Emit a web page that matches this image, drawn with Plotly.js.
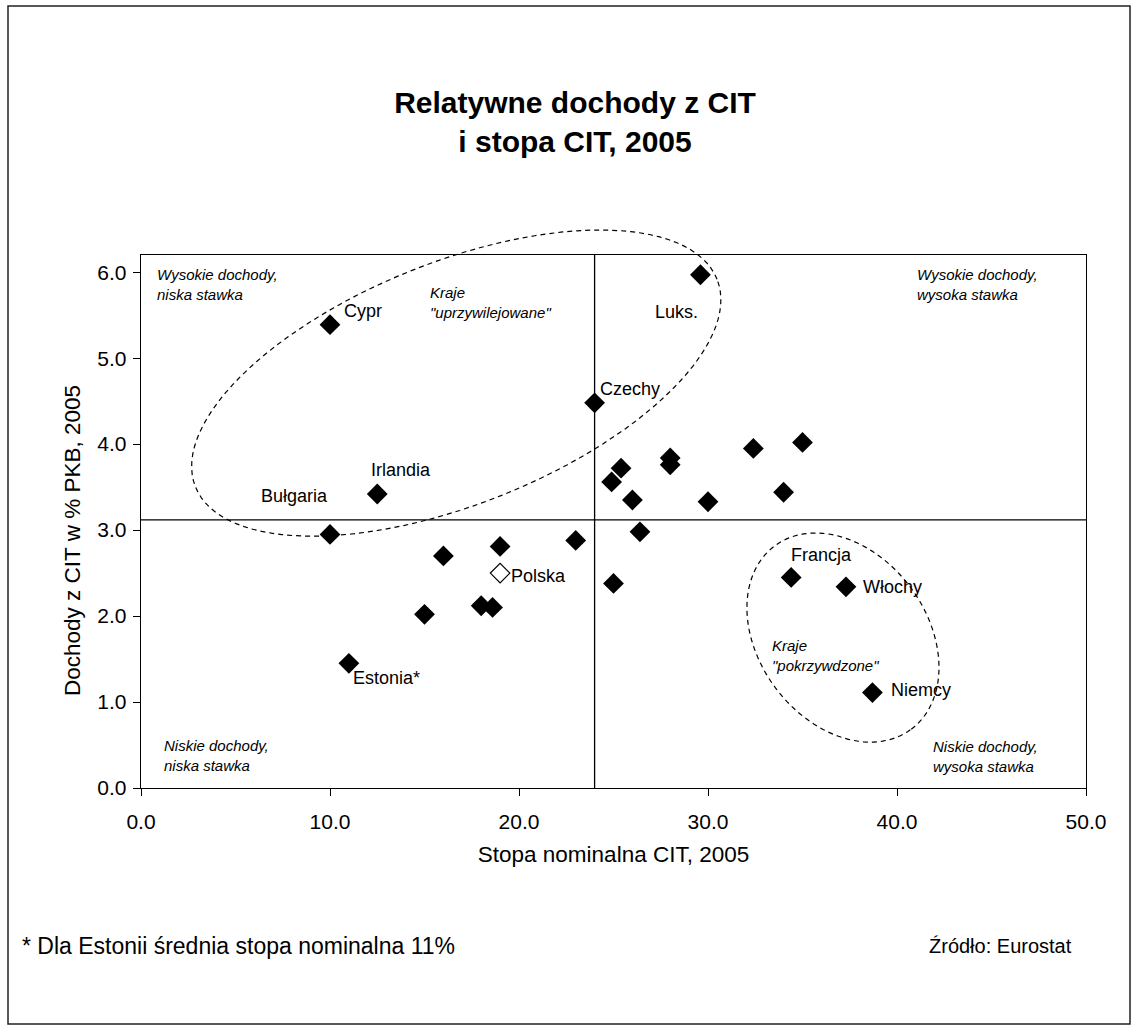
<!DOCTYPE html>
<html>
<head>
<meta charset="utf-8">
<script src="https://cdn.plot.ly/plotly-3.0.1.min.js"></script>
<style>
  html, body { margin: 0; padding: 0; background: #fff; }
  #chart { width: 1133px; height: 1027px; }
</style>
</head>
<body>
<div id="chart"></div>
<script>
// ---- data ----
const rates    = [10.0, 10.0, 12.5, 11.0, 15.0, 16.0, 18.0, 18.6, 19.0, 23.0, 24.0, 24.9, 25.4, 25.0, 26.0, 26.4, 28.0, 28.0, 29.6, 30.0, 32.4, 34.0, 35.0, 34.4, 37.3, 38.7];
const revenues = [5.39, 2.95, 3.42, 1.45, 2.02, 2.70, 2.12, 2.10, 2.81, 2.88, 4.48, 3.56, 3.72, 2.38, 3.35, 2.98, 3.84, 3.76, 5.97, 3.33, 3.95, 3.44, 4.02, 2.45, 2.34, 1.11];
const labels   = ['Cypr', 'Bułgaria', 'Irlandia', 'Estonia*', '', '', '', '', '', '', 'Czechy', '', '', '', '', '', '', '', 'Luks.', '', '', '', '', 'Francja', 'Włochy', 'Niemcy'];
const polandRate = [19.0];
const polandRevenue = [2.50];
const polandLabel = ['Polska'];
const avgRate = 24.0;      // vertical divider
const avgRevenue = 3.12;   // horizontal divider
const xTicks = [0, 10, 20, 30, 40, 50];
const yTicks = [0, 1, 2, 3, 4, 5, 6];

// ---- geometry / style ----
const W = 1133, H = 1027;
const M = { l: 141, r: 47, t: 255, b: 239 };
const PW = W - M.l - M.r, PH = H - M.t - M.b;
const XR = [0, 50], YR = [0, 6.2];
const FONT = 'Arial, "Liberation Sans", Helvetica, sans-serif';

function px2paperX(px) { return (px - M.l) / PW; }
function px2paperY(py) { return (H - M.b - py) / PH; }
function dataToPx(x, y) {
  return [M.l + (x - XR[0]) / (XR[1] - XR[0]) * PW, (H - M.b) - (y - YR[0]) / (YR[1] - YR[0]) * PH];
}
function ellipsePath(cx, cy, a, b, thetaDeg) {
  const c = dataToPx(cx, cy);
  const th = thetaDeg * Math.PI / 180;
  let d = '';
  const n = 120;
  for (let i = 0; i <= n; i++) {
    const t = 2 * Math.PI * i / n;
    const X = c[0] + a * Math.cos(t) * Math.cos(th) - b * Math.sin(t) * Math.sin(th);
    const Y = c[1] - (a * Math.cos(t) * Math.sin(th) + b * Math.sin(t) * Math.cos(th));
    d += (i === 0 ? 'M' : 'L') + px2paperX(X).toFixed(5) + ',' + px2paperY(Y).toFixed(5);
  }
  return d + 'Z';
}

const labelStyle = {
  'Cypr':     { anchor: 'left',  dx: 12,  dy: 14 },
  'Bułgaria': { anchor: 'right', dx: 0,   dy: 38 },
  'Irlandia': { anchor: 'left',  dx: -8,  dy: 24 },
  'Estonia*': { anchor: 'left',  dx: 2,   dy: -15 },
  'Czechy':   { anchor: 'left',  dx: 3,   dy: 14 },
  'Luks.':    { anchor: 'right', dx: 0,   dy: -37 },
  'Francja':  { anchor: 'left',  dx: -2,  dy: 22 },
  'Włochy':   { anchor: 'left',  dx: 15,  dy: 0 },
  'Niemcy':   { anchor: 'left',  dx: 17,  dy: 3 },
  'Polska':   { anchor: 'left',  dx: 9,   dy: -3 }
};

const annotations = [];
function addLabel(x, y, name) {
  if (!name) return;
  const s = labelStyle[name];
  annotations.push({
    x: x, y: y, xref: 'x', yref: 'y', text: name, showarrow: false,
    xanchor: s.anchor, yanchor: 'middle', xshift: s.dx, yshift: s.dy,
    font: { family: FONT, size: 18, color: '#000' }
  });
}
rates.forEach((x, i) => addLabel(x, revenues[i], labels[i]));
addLabel(polandRate[0], polandRevenue[0], polandLabel[0]);

const noteFont = { family: FONT, size: 15, color: '#000', style: 'italic' };
const notes = [
  { x: 0.75,  y: 5.86, t: 'Wysokie dochody,<br>niska stawka' },
  { x: 40.95, y: 5.86, t: 'Wysokie dochody,<br>wysoka stawka' },
  { x: 1.12,  y: 0.38, t: 'Niskie dochody,<br>niska stawka' },
  { x: 41.8,  y: 0.37, t: 'Niskie dochody,<br>wysoka stawka' },
  { x: 15.2,  y: 5.65, t: 'Kraje<br>"uprzywilejowane"' },
  { x: 33.27, y: 1.54, t: 'Kraje<br>"pokrzywdzone"' }
];
notes.forEach(n => annotations.push({
  x: n.x, y: n.y, xref: 'x', yref: 'y', text: n.t, showarrow: false,
  xanchor: 'left', yanchor: 'middle', align: 'left', font: noteFont
}));

// y axis title, placed as rotated text beside the axis
annotations.push({
  x: px2paperX(72), y: px2paperY(541), xref: 'paper', yref: 'paper',
  text: 'Dochody z CIT w % PKB, 2005', textangle: -90, showarrow: false,
  xanchor: 'center', yanchor: 'middle', font: { family: FONT, size: 22.5, color: '#000' }
});

annotations.push({
  x: px2paperX(20), y: px2paperY(946), xref: 'paper', yref: 'paper',
  text: '* Dla Estonii średnia stopa nominalna 11%', showarrow: false,
  xanchor: 'left', yanchor: 'middle', font: { family: FONT, size: 23, color: '#000' }
});
annotations.push({
  x: px2paperX(1074), y: px2paperY(946), xref: 'paper', yref: 'paper',
  text: 'Źródło: Eurostat', showarrow: false,
  xanchor: 'right', yanchor: 'middle', font: { family: FONT, size: 20, color: '#000' }
});

const shapes = [
  { type: 'line', xref: 'x', yref: 'y', x0: avgRate, x1: avgRate, y0: YR[0], y1: YR[1],
    line: { color: '#000', width: 1.3 } },
  { type: 'line', xref: 'x', yref: 'y', x0: XR[0], x1: XR[1], y0: avgRevenue, y1: avgRevenue,
    line: { color: '#000', width: 1.3 } },
  { type: 'path', xref: 'paper', yref: 'paper', path: ellipsePath(16.68, 4.71, 280.7, 121.1, 21.7),
    line: { color: '#000', width: 1.2, dash: '5px,4px' } },
  { type: 'path', xref: 'paper', yref: 'paper', path: ellipsePath(37.14, 1.75, 114.3, 84.2, -53.3),
    line: { color: '#000', width: 1.2, dash: '5px,4px' } },
  { type: 'rect', xref: 'paper', yref: 'paper', layer: 'above',
    x0: px2paperX(8), x1: px2paperX(1130), y0: px2paperY(1024), y1: px2paperY(6),
    line: { color: '#222', width: 1.5 } }
];

const traces = [
  { type: 'scatter', mode: 'markers', x: rates, y: revenues, text: labels,
    marker: { symbol: 'diamond', size: 16, color: '#000', line: { width: 0 } },
    hoverinfo: 'x+y+text', showlegend: false },
  { type: 'scatter', mode: 'markers', x: polandRate, y: polandRevenue, text: polandLabel,
    marker: { symbol: 'diamond', size: 15, color: '#fff', line: { width: 1.2, color: '#000' } },
    hoverinfo: 'x+y+text', showlegend: false }
];

const axisCommon = {
  showline: true, mirror: true, linecolor: '#000', linewidth: 1.3,
  ticks: 'outside', ticklen: 7, tickcolor: '#000', tickwidth: 1,
  showgrid: false, zeroline: false, tickformat: '.1f', tickmode: 'array',
  tickfont: { family: FONT, size: 21, color: '#000' }
};

const layout = {
  width: W, height: H,
  margin: M,
  paper_bgcolor: '#fff', plot_bgcolor: '#fff',
  font: { family: FONT, color: '#000' },
  title: {
    text: '<b>Relatywne dochody z CIT<br>i stopa CIT, 2005</b>',
    font: { family: FONT, size: 30, color: '#000' },
    xref: 'container', yref: 'container', x: 575 / W, xanchor: 'center',
    y: 1 - 113 / H, yanchor: 'middle'
  },
  xaxis: Object.assign({}, axisCommon, {
    range: XR, tickvals: xTicks, ticklabelstandoff: 7,
    title: { text: 'Stopa nominalna CIT, 2005', font: { family: FONT, size: 22.5, color: '#000' }, standoff: 14 }
  }),
  yaxis: Object.assign({}, axisCommon, {
    range: YR, tickvals: yTicks, ticklabelstandoff: 2,
    title: { text: '' }
  }),
  shapes: shapes,
  annotations: annotations,
  showlegend: false
};

Plotly.newPlot('chart', traces, layout, { displayModeBar: false, staticPlot: true });
</script>
</body>
</html>
